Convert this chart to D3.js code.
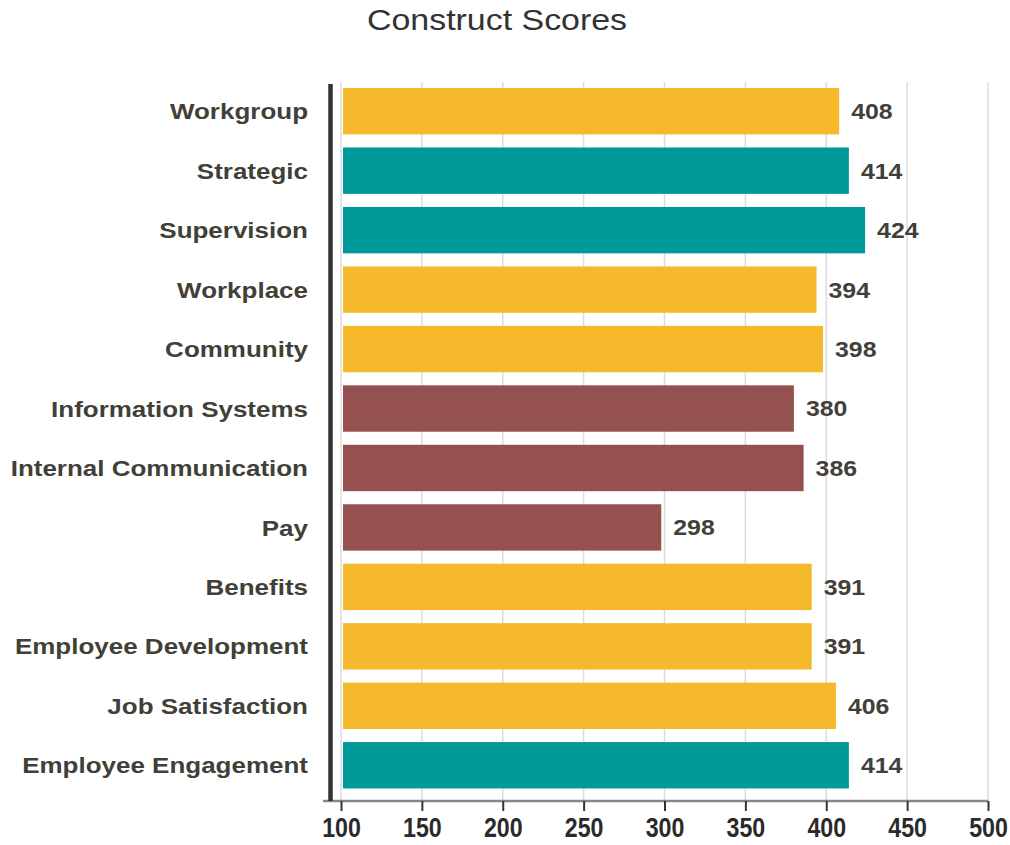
<!DOCTYPE html>
<html>
<head>
<meta charset="utf-8">
<script src="https://cdn.jsdelivr.net/npm/d3@7"></script>
<style>
  html, body { margin: 0; padding: 0; background: #fff; }
  svg { display: block; }
</style>
</head>
<body>
<div id="chart"></div>
<script>
// Construct scores, top to bottom as drawn
const constructs = [
  "Workgroup", "Strategic", "Supervision", "Workplace", "Community",
  "Information Systems", "Internal Communication", "Pay", "Benefits",
  "Employee Development", "Job Satisfaction", "Employee Engagement"
];
const scores = [408, 414, 424, 394, 398, 380, 386, 298, 391, 391, 406, 414];
const xTicks = [100, 150, 200, 250, 300, 350, 400, 450, 500];

const width = 1010;
const height = 845;

const data = constructs.map((name, i) => ({ name: name, value: scores[i] }));

const svg = d3.select("#chart")
  .append("svg")
  .attr("width", width)
  .attr("height", height)
  .attr("viewBox", [0, 0, width, height]);

const x = d3.scaleLinear()
  .domain([100, 500])
  .range([341, 988]);

const y = d3.scaleBand()
  .domain(constructs)
  .range([81.5, 795])
  .paddingInner(0.22)
  .paddingOuter(0.11);

// colour by score band: low / mid / high
const color = d3.scaleThreshold()
  .domain([390, 410])
  .range(["#955150", "#f6b92b", "#009999"]);

const axisY = 801;

// title
svg.append("text")
  .attr("transform", `translate(${497}, ${30}) scale(1.17, 1)`)
  .attr("text-anchor", "middle")
  .style("font-family", "'Liberation Sans', Arial, sans-serif")
  .style("font-size", "29px")
  .style("fill", "#333")
  .text("Construct Scores");

// gridlines
svg.append("g")
  .selectAll("line")
  .data(xTicks)
  .join("line")
  .attr("x1", d => x(d))
  .attr("x2", d => x(d))
  .attr("y1", 82)
  .attr("y2", axisY)
  .attr("stroke", "#dcdcdc")
  .attr("stroke-width", 1.5);

// bars
svg.append("g")
  .selectAll("rect")
  .data(data)
  .join("rect")
  .attr("x", x(100) + 2)
  .attr("y", d => y(d.name))
  .attr("width", d => x(d.value) - x(100) - 2)
  .attr("height", y.bandwidth())
  .attr("fill", d => color(d.value));

// value labels
svg.append("g")
  .selectAll("text")
  .data(data)
  .join("text")
  .attr("transform", d => `translate(${x(d.value) + 12}, ${y(d.name) + y.bandwidth() / 2}) scale(1.13, 1)`)
  .attr("dy", "0.36em")
  .style("font-family", "'Liberation Sans', Arial, sans-serif")
  .style("font-size", "22px")
  .style("font-weight", "bold")
  .style("fill", "#423f38")
  .text(d => d.value);

// category labels
svg.append("g")
  .selectAll("text")
  .data(data)
  .join("text")
  .attr("transform", d => `translate(308, ${y(d.name) + y.bandwidth() / 2}) scale(1.155, 1)`)
  .attr("dy", "0.36em")
  .attr("text-anchor", "end")
  .style("font-family", "'Liberation Sans', Arial, sans-serif")
  .style("font-size", "22.5px")
  .style("font-weight", "bold")
  .style("fill", "#423f38")
  .text(d => d.name);

// x axis
const xAxis = svg.append("g")
  .attr("transform", `translate(0, ${axisY})`)
  .call(d3.axisBottom(x).tickValues(xTicks).tickSize(10).tickSizeOuter(0).tickPadding(7));

xAxis.select(".domain")
  .attr("d", `M323,0H${x(500)}`)
  .attr("stroke", "#888")
  .attr("stroke-width", 2.5);

xAxis.selectAll(".tick line")
  .attr("stroke", "#333")
  .attr("stroke-width", 2);

xAxis.selectAll(".tick text")
  .attr("transform", "scale(0.86, 1)")
  .style("font-family", "'Liberation Sans', Arial, sans-serif")
  .style("font-size", "27px")
  .style("font-weight", "bold")
  .style("fill", "#2a2a2a");

// dark left axis bar
svg.append("line")
  .attr("x1", 330.5)
  .attr("x2", 330.5)
  .attr("y1", 84)
  .attr("y2", axisY)
  .attr("stroke", "#333")
  .attr("stroke-width", 4.5);
</script>
</body>
</html>
